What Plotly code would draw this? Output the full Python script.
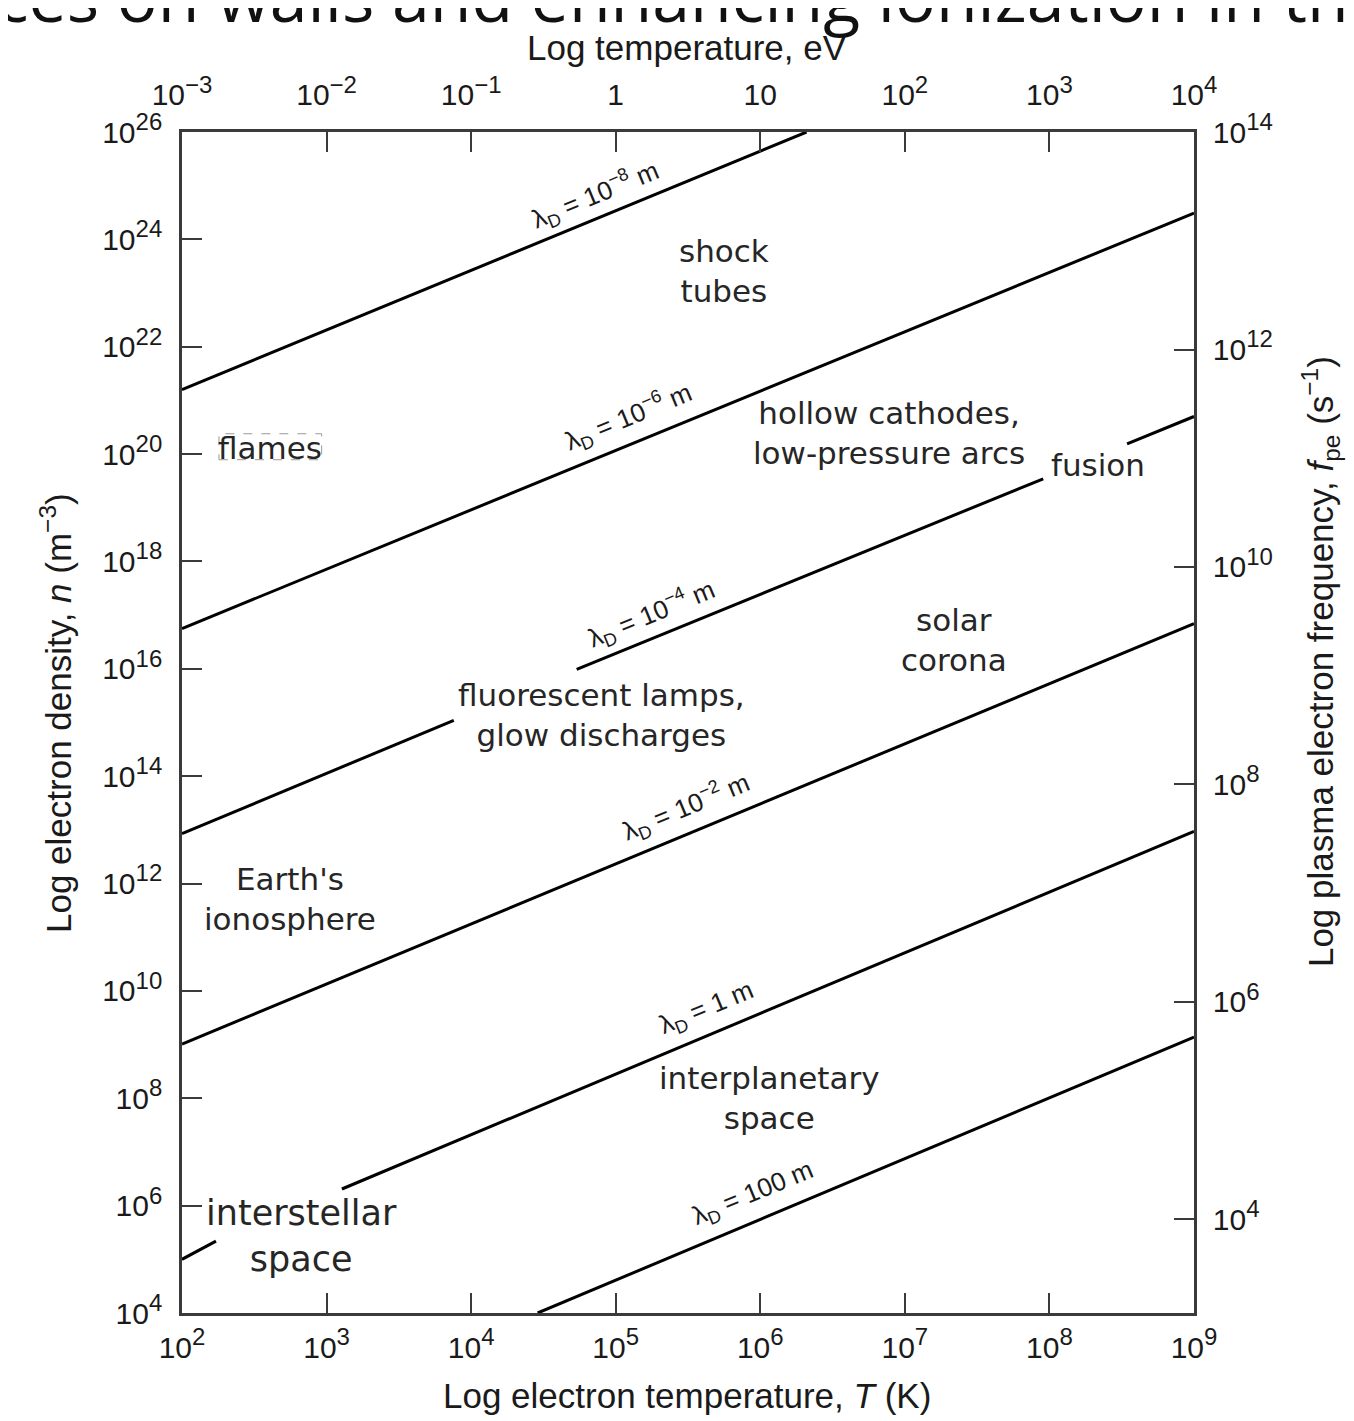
import plotly.graph_objects as go

# ---------------- data (log10 units) ----------------
T_range = [2, 9]          # electron temperature, K (log10)
eV_range = [-3, 4]        # temperature, eV (log10)
n_range = [4, 26]         # electron density, m^-3 (log10)
f_range = [3.14, 14]      # plasma electron frequency, s^-1 (log10)

T_tickexp = [2, 3, 4, 5, 6, 7, 8, 9]
eV_tickexp = [-3, -2, -1, 0, 1, 2, 3, 4]
n_tickexp = [4, 6, 8, 10, 12, 14, 16, 18, 20, 22, 24, 26]
f_tickexp = [4, 6, 8, 10, 12, 14]

# Debye-length lines: log10 T and log10 n (None = gap for a label)
line_names = ["1e-8 m", "1e-6 m", "1e-4 m", "1e-2 m", "1 m", "100 m"]
line_logT = [
    [2.0, 6.32],
    [2.0, 9.0],
    [2.0, 3.88, None, 4.73, 7.957, None, 8.537, 9.0],
    [2.0, 9.0],
    [2.0, 2.235, None, 3.106, 9.0],
    [4.46, 9.0],
]
line_logn = [
    [21.20, 26.0],
    [16.75, 24.49],
    [12.93, 15.04, None, 15.99, 19.54, None, 20.19, 20.70],
    [9.01, 16.84],
    [5.00, 5.34, None, 6.31, 12.97],
    [4.0, 9.14],
]

# line labels
lam_text = ["λ<sub>D</sub> = 10<sup>−8</sup> m", "λ<sub>D</sub> = 10<sup>−6</sup> m",
            "λ<sub>D</sub> = 10<sup>−4</sup> m", "λ<sub>D</sub> = 10<sup>−2</sup> m",
            "λ<sub>D</sub> = 1 m", "λ<sub>D</sub> = 100 m"]
lam_logT = [4.854, 5.082, 5.241, 5.483, 5.628, 5.953]
lam_logn = [24.83, 20.70, 17.03, 13.42, 9.68, 6.22]

# region labels
reg_text = ["shock<br>tubes", "hollow cathodes,<br>low-pressure arcs", "fusion", "flames",
            "solar<br>corona", "fluorescent lamps,<br>glow discharges", "Earth's<br>ionosphere",
            "interplanetary<br>space", "interstellar<br>space"]
reg_logT = [5.752, 6.893, 8.337, 2.608, 7.342, 4.902, 2.746, 6.063, 2.829]
reg_logn = [23.413, 20.398, 19.802, 20.119, 16.545, 15.149, 11.706, 8.003, 5.434]
reg_size = [31, 31, 31, 31, 31, 31, 31, 31, 35]

# ---------------- helpers ----------------
def pw(v):
    return [None if a is None else 10.0 ** a for a in v]

SUP = "<sup><span style='font-size:24px'>%s</span></sup>"

def powlabel(k, special=False):
    if special and k == 0:
        return "1"
    if special and k == 1:
        return "10"
    s = ("−%d" % -k) if k < 0 else ("%d" % k)
    return "10" + SUP % s

fig = go.Figure()
for name, lx, ly in zip(line_names, line_logT, line_logn):
    fig.add_trace(go.Scatter(x=pw(lx), y=pw(ly), mode="lines", name=name,
                             line=dict(color="black", width=3), hoverinfo="skip",
                             connectgaps=False, showlegend=False))
# invisible trace to realise the top / right axes
fig.add_trace(go.Scatter(x=pw(eV_range), y=pw(f_range), xaxis="x2", yaxis="y2",
                         mode="markers", marker=dict(opacity=0), hoverinfo="skip",
                         showlegend=False))

axis_col = "#3a3a3a"
tick_font = dict(family="Liberation Sans, Arial, sans-serif", size=30, color="#1a1a1a")
common = dict(type="log", showgrid=False, zeroline=False, showline=True, linecolor=axis_col,
              linewidth=2.5, ticks="inside", ticklen=20, tickwidth=2, tickcolor=axis_col,
              tickfont=tick_font)

fig.update_layout(
    width=1348, height=1415,
    margin=dict(l=174, r=162, t=124, b=110),
    paper_bgcolor="white", plot_bgcolor="white",
    showlegend=False,
    xaxis=dict(range=T_range, tickvals=pw(T_tickexp),
               ticktext=[powlabel(k) for k in T_tickexp], ticklabelstandoff=6, **common),
    xaxis2=dict(range=eV_range, overlaying="x", side="top", tickvals=pw(eV_tickexp),
                ticktext=[powlabel(k, True) for k in eV_tickexp], ticklabelstandoff=12,
                **common),
    yaxis=dict(range=n_range, tickvals=pw(n_tickexp),
               ticktext=[powlabel(k) for k in n_tickexp], ticklabelstandoff=11, **common),
    yaxis2=dict(range=f_range, overlaying="y", side="right", tickvals=pw(f_tickexp),
                ticktext=[powlabel(k) for k in f_tickexp], ticklabelstandoff=10, **common),
)

ann = []
lab_font = dict(family="Liberation Sans, Arial, sans-serif", size=26, color="#1a1a1a")
for t, x, y in zip(lam_text, lam_logT, lam_logn):
    ann.append(dict(x=x, y=y, xref="x", yref="y", text=t, showarrow=False,
                    textangle=-22.5, font=lab_font, xanchor="center", yanchor="middle"))
for t, x, y, s in zip(reg_text, reg_logT, reg_logn, reg_size):
    ann.append(dict(x=x, y=y, xref="x", yref="y", text=t, showarrow=False,
                    font=dict(family="DejaVu Sans", size=s, color="#262626"),
                    xanchor="center", yanchor="middle"))

title_font = dict(family="Liberation Sans, Arial, sans-serif", size=35, color="#1a1a1a")
ann += [
    dict(x=0.4995, y=-0.0702, xref="paper", yref="paper", showarrow=False,
         text="Log electron temperature, <i>T</i> (K)", font=title_font,
         xanchor="center", yanchor="middle"),
    dict(x=0.4995, y=1.0719, xref="paper", yref="paper", showarrow=False,
         text="Log temperature, eV", font=title_font, xanchor="center", yanchor="middle"),
    dict(x=-0.125, y=0.5076, xref="paper", yref="paper", showarrow=False, textangle=-90,
         text="Log electron density, <i>n</i> (m<sup>−3</sup>)", font=title_font,
         xanchor="center", yanchor="middle"),
    dict(x=1.125, y=0.5516, xref="paper", yref="paper", showarrow=False, textangle=-90,
         text="Log plasma electron frequency, <i>f</i><sub>pe</sub> (s<sup>−1</sup>)",
         font=dict(family="Liberation Sans, Arial, sans-serif", size=35, color="#1a1a1a"),
         xanchor="center", yanchor="middle"),
    dict(x=0.4847, y=1.1159, xref="paper", yref="paper", showarrow=False,
         text="ces on walls and enhancing ionization in th",
         font=dict(family="Open Sans", size=68, color="#111111"),
         xanchor="center", yanchor="middle"),
]
fig.update_layout(annotations=ann)

# dashed frame around "flames"
fig.add_shape(type="rect", xref="paper", yref="paper", x0=0.0365, x1=0.138,
              y0=0.7225, y1=0.7445, line=dict(color="#9a9a9a", width=1, dash="dash"))

fig.write_html("out.html")
